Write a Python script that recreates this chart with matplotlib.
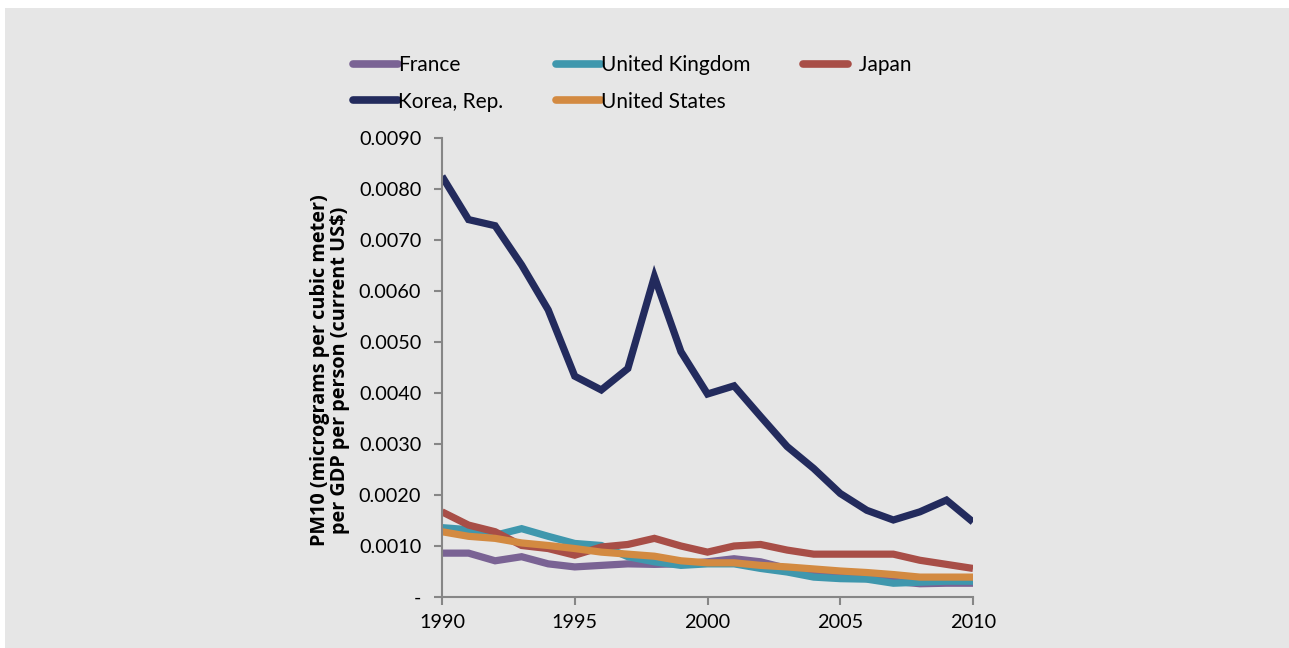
import matplotlib
matplotlib.use("Agg")
import matplotlib.pyplot as plt
from matplotlib.patches import Rectangle
from matplotlib.lines import Line2D
from matplotlib.ticker import FuncFormatter, MultipleLocator

years = list(range(1990, 2011))
france = [0.00086, 0.00086, 0.00071, 0.00079, 0.00065, 0.00059, 0.00062, 0.00065, 0.00064, 0.00065,
          0.00069, 0.00075, 0.00069, 0.00056, 0.00047, 0.00043, 0.00036, 0.00031, 0.00026, 0.00027, 0.00027]
uk = [0.00136, 0.00132, 0.00121, 0.00134, 0.00119, 0.00105, 0.00101, 0.00079, 0.00069, 0.00062,
      0.00065, 0.00065, 0.00056, 0.00049, 0.00039, 0.00036, 0.00035, 0.00027, 0.00029, 0.00031, 0.00031]
japan = [0.00167, 0.00141, 0.00128, 0.00101, 0.00095, 0.00082, 0.00098, 0.00103, 0.00115, 0.00100,
         0.00088, 0.00100, 0.00103, 0.00092, 0.00084, 0.00084, 0.00084, 0.00084, 0.00072, 0.00064, 0.00056]
korea = [0.00825, 0.00740, 0.00728, 0.00651, 0.00563, 0.00433, 0.00406, 0.00448, 0.00628, 0.00481,
         0.00398, 0.00414, 0.00354, 0.00295, 0.00252, 0.00203, 0.00170, 0.00151, 0.00167, 0.00190, 0.00147]
us = [0.00128, 0.00119, 0.00115, 0.00106, 0.00101, 0.00095, 0.00088, 0.00084, 0.00080, 0.00071,
      0.00067, 0.00067, 0.00062, 0.00059, 0.00055, 0.00051, 0.00048, 0.00044, 0.00039, 0.00039, 0.00039]

series_names = ["France", "United Kingdom", "Japan", "Korea, Rep.", "United States"]
series_values = [france, uk, japan, korea, us]
colors = ["#7a6394", "#3f97ad", "#a84e47", "#232b5d", "#d38a41"]

xticks = [1990, 1995, 2000, 2005, 2010]
ylabel = "PM10 (micrograms per cubic meter)\nper GDP per person (current US$)"

fig = plt.figure(figsize=(12.89, 6.48), dpi=100)
fig.patch.set_facecolor("white")
fig.patches.append(Rectangle((5 / 1289, 0), 1, 1 - 8 / 648, transform=fig.transFigure,
                             facecolor="#e6e6e6", edgecolor="none", zorder=-10))

ax = fig.add_axes([442 / 1289, 1 - 597 / 648, (973 - 442) / 1289, (597 - 138) / 648])
ax.set_facecolor("none")

lines = []
for name, vals, c in zip(series_names, series_values, colors):
    ln, = ax.plot(years, vals, color=c, lw=5.2, solid_capstyle="butt", solid_joinstyle="miter", label=name)
    lines.append(ln)

ax.set_xlim(1990, 2010)
ax.set_ylim(0, 0.009)
ax.set_xticks(xticks)
ax.yaxis.set_major_locator(MultipleLocator(0.001))
ax.yaxis.set_major_formatter(FuncFormatter(lambda v, p: "-" if abs(v) < 1e-12 else f"{v:.4f}"))

for s in ["top", "right"]:
    ax.spines[s].set_visible(False)
for s in ["left", "bottom"]:
    ax.spines[s].set_color("#868686")
    ax.spines[s].set_linewidth(1.5)
ax.tick_params(axis="both", direction="out", length=6, width=1.5, color="#868686",
               labelsize=14.3, labelcolor="black")
ax.tick_params(axis="y", pad=9)
ax.tick_params(axis="x", pad=6)
for lab in ax.get_xticklabels() + ax.get_yticklabels():
    lab.set_family("Lato")

ax.set_ylabel(ylabel, fontsize=14.3, fontweight="bold", family="Open Sans", labelpad=10,
              linespacing=1.0)
ax.yaxis.set_label_coords(350 / 1289, 1 - 370 / 648, transform=fig.transFigure)

order = [0, 3, 1, 4, 2]
labels = [series_names[i] for i in order]
labels = [("  " + l if l == "Japan" else l) for l in labels]
hproxy = [Line2D([], [], color=lines[i].get_color(), lw=5.5, solid_capstyle="round") for i in order]
leg = fig.legend(hproxy, labels, ncol=3, loc="upper left", bbox_to_anchor=(353 / 1289, 1 - 55 / 648),
                 frameon=False, prop={"family": "Lato", "size": 15},
                 handlelength=2.15, handletextpad=0.0, columnspacing=2.55, labelspacing=0.8,
                 borderaxespad=0, borderpad=0)

fig.savefig("out.png", dpi=100, facecolor=fig.get_facecolor())
